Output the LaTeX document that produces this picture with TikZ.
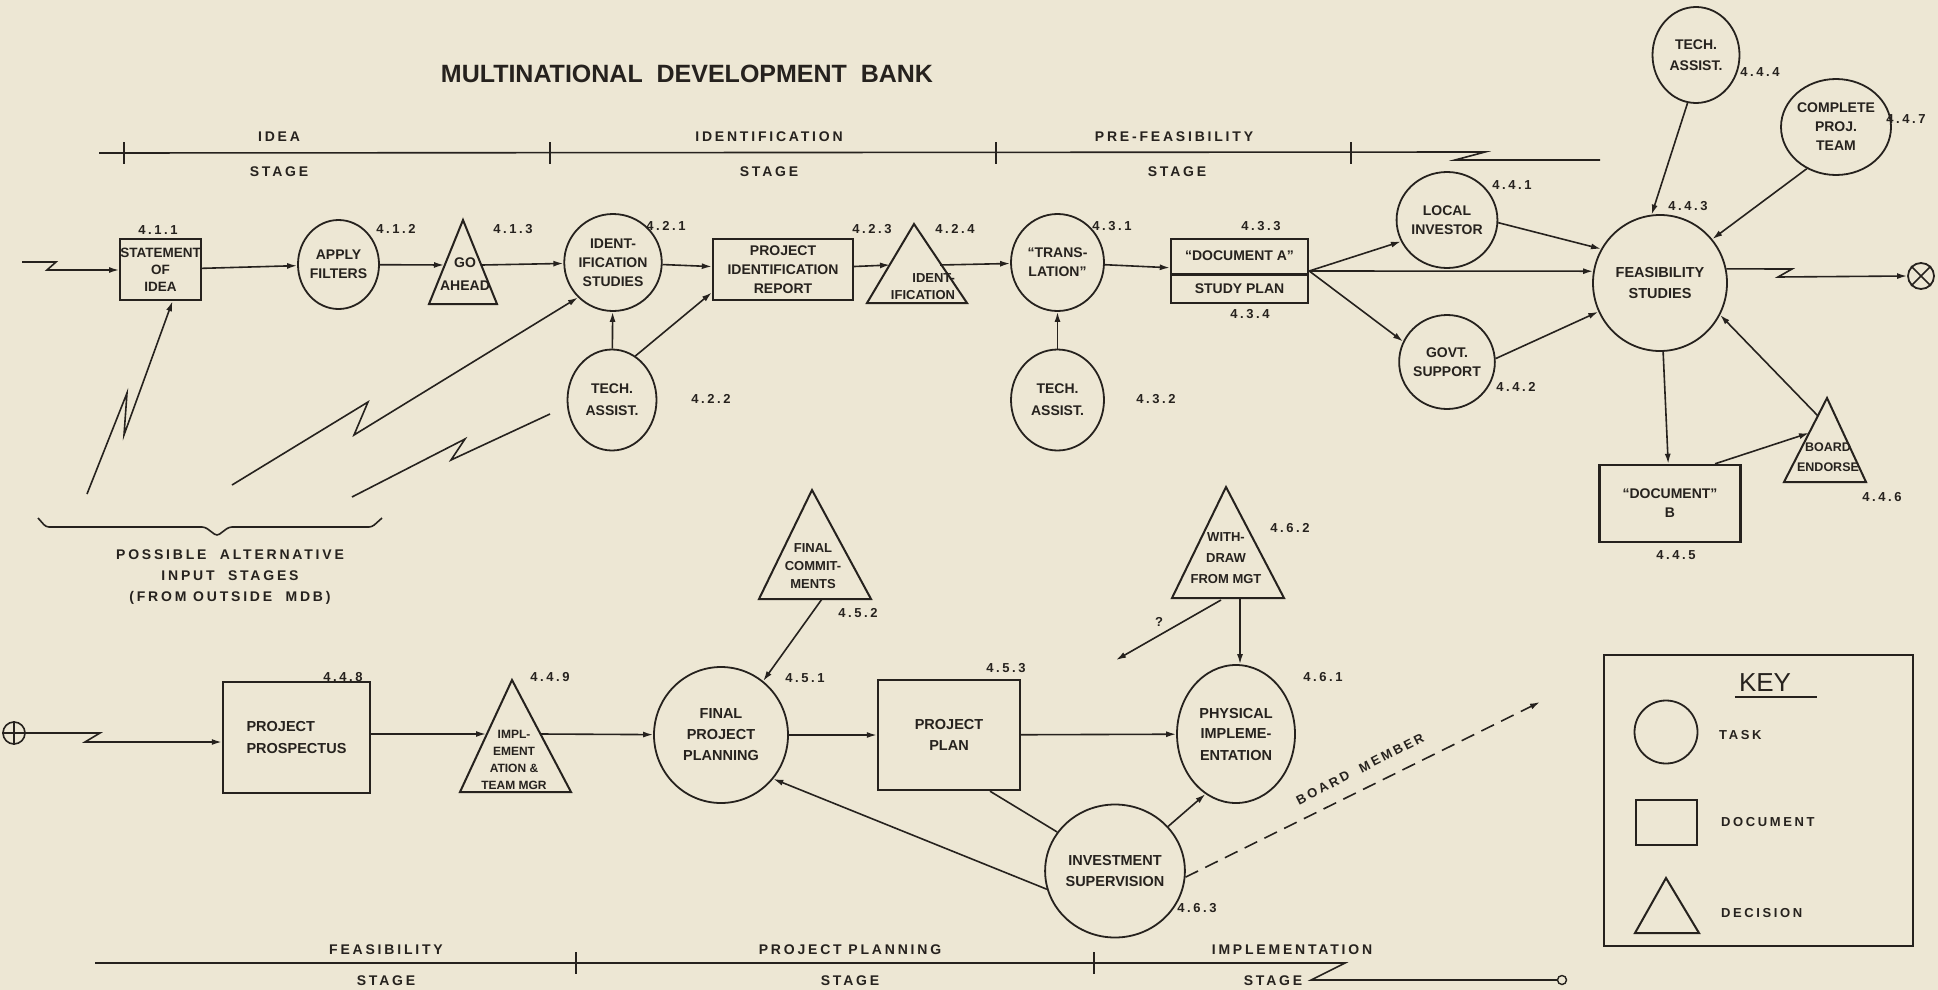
\documentclass[tikz,border=0pt]{standalone}
\usepackage{fontspec}
\setmainfont{Liberation Sans}
\newfontfamily\mySpacedFont{Liberation Sans}[LetterSpace=20]
\usetikzlibrary{shapes.geometric,arrows.meta,calc}
\definecolor{paper}{RGB}{237,231,212}
\definecolor{inkc}{RGB}{38,34,30}
\newcommand\myNodeFont{\bfseries\fontsize{14}{19}\selectfont}
\newcommand\myLowFont{\bfseries\fontsize{14.5}{21}\selectfont}
\newcommand\myLblFont{\mySpacedFont\bfseries\fontsize{13}{15}\selectfont}
\newcommand\myStageFont{\mySpacedFont\bfseries\fontsize{14}{16}\selectfont}
\newcommand\myTitleFont{\bfseries\fontsize{25}{30}\selectfont}
\begin{document}
\begin{tikzpicture}[x=1pt,y=-1pt,
  task/.style={ellipse, draw=inkc, line width=1.8pt, inner sep=0pt, align=center, font=\myNodeFont, text=inkc},
  docbox/.style={rectangle, draw=inkc, line width=2.4pt, inner sep=0pt, align=center, font=\myNodeFont, text=inkc},
  tri/.style={draw=inkc, line width=2pt, line join=miter},
  trinode/.style={inner sep=0pt, align=center, font=\myNodeFont, text=inkc},
  lbl/.style={inner sep=0pt, font=\myLblFont, text=inkc},
  stagelbl/.style={inner sep=0pt, font=\myStageFont, text=inkc},
  ln/.style={draw=inkc, line width=1.6pt},
  arr/.style={draw=inkc, line width=1.6pt, -{Latex[length=10pt,width=6pt]}},
]
\fill[paper] (0,0) rectangle (1938,990);
\useasboundingbox (0,0) rectangle (1938,990);

% title
\node[font=\myTitleFont, text=inkc, inner sep=0pt] (title) at (687,74) {MULTINATIONAL\ \ DEVELOPMENT\ \ BANK};

% top stage line
\coordinate (tsA) at (99,153);
\coordinate (tsB) at (1485,152);
\coordinate (tsC) at (1455,160);
\coordinate (tsD) at (1600,160);
\draw[ln] (tsA) -- (tsB) -- (tsC) -- (tsD);
\foreach \x in {124,550,996,1351} {\draw[ln] (\x,142) -- (\x,164);}
\node[stagelbl] (lIdea) at (279,137) {IDEA};
\node[stagelbl] (lIdeaS) at (279,172) {STAGE};
\node[stagelbl] (lIdent) at (769,137) {IDENTIFICATION};
\node[stagelbl] (lIdentS) at (769,172) {STAGE};
\node[stagelbl] (lPre) at (1174,137) {PRE-FEASIBILITY};
\node[stagelbl] (lPreS) at (1177,172) {STAGE};

% ---------- main row ----------
\node[docbox, minimum width=79pt, minimum height=61pt, font=\bfseries\fontsize{13.5}{17}\selectfont] (stmt) at (160.5,269.5) {STATEMENT\\OF\\IDEA};
\node[lbl] (n411) at (158,230) {4.1.1};
\node[task, minimum width=81pt, minimum height=89pt] (apply) at (338.5,264.5) {APPLY\\FILTERS};
\node[lbl] (n412) at (396,229) {4.1.2};
\draw[tri] (463,220) -- (429,304) -- (497,304) -- cycle;
\node[trinode, font=\bfseries\fontsize{14}{23}\selectfont] (t413) at (465,274) {GO\\AHEAD};
\node[lbl] (n413) at (513,229) {4.1.3};
\coordinate (t413w) at (444,265);
\coordinate (t413e) at (482,265);
\node[task, minimum width=92pt, minimum height=97pt] (ident) at (613,262.5) {IDENT-\\IFICATION\\STUDIES};
\node[lbl] (n421) at (666,226) {4.2.1};
\node[task, minimum width=89pt, minimum height=101pt, font=\bfseries\fontsize{14}{22}\selectfont] (tech422) at (612,400) {TECH.\\ASSIST.};
\node[lbl] (n422) at (711,399) {4.2.2};
\node[docbox, minimum width=140pt, minimum height=61pt] (report) at (783,269.5) {PROJECT\\IDENTIFICATION\\REPORT};
\node[lbl] (n423) at (872,229) {4.2.3};
\draw[tri] (914,224) -- (867,303) -- (967,303) -- cycle;
\node[trinode, align=right, font=\bfseries\fontsize{13}{17}\selectfont] (t424) at (923,287) {IDENT-\\IFICATION};
\node[lbl] (n424) at (955,229) {4.2.4};
\coordinate (t424w) at (890,265);
\coordinate (t424e) at (940,265);
\node[task, minimum width=93pt, minimum height=97pt] (trans) at (1057.5,262.5) {``TRANS-\\LATION''};
\node[lbl] (n431) at (1112,226) {4.3.1};
\node[task, minimum width=93pt, minimum height=101pt, font=\bfseries\fontsize{14}{22}\selectfont] (tech432) at (1057.5,400) {TECH.\\ASSIST.};
\node[lbl] (n432) at (1156,399) {4.3.2};
\node[docbox, minimum width=137pt, minimum height=64pt] (docA) at (1239.5,271) {};
\draw[inkc, line width=2.4pt] ([yshift=-3.5pt]docA.west) -- ([yshift=-3.5pt]docA.east);
\node[trinode] (docAt) at (1239.5,256) {``DOCUMENT A''};
\node[trinode] (docAb) at (1239.5,289) {STUDY PLAN};
\node[lbl] (n433) at (1261,226) {4.3.3};
\node[lbl] (n434) at (1250,314) {4.3.4};
\node[task, minimum width=90pt, minimum height=96pt] (local) at (1447,220) {LOCAL\\INVESTOR};
\node[lbl] (n441) at (1512,185) {4.4.1};
\node[task, minimum width=90pt, minimum height=94pt] (govt) at (1447,362) {GOVT.\\SUPPORT};
\node[lbl] (n442) at (1516,387) {4.4.2};
\node[task, minimum width=134pt, minimum height=136pt, font=\bfseries\fontsize{14.5}{21}\selectfont] (feas) at (1660,283) {FEASIBILITY\\STUDIES};
\node[lbl] (n443) at (1688,206) {4.4.3};
\node[task, minimum width=87pt, minimum height=96pt, font=\bfseries\fontsize{14}{21}\selectfont] (tech444) at (1696,55) {TECH.\\ASSIST.};
\node[lbl] (n444) at (1760,72) {4.4.4};
\node[task, minimum width=82pt, minimum height=96pt] (team) at (1836,127) {COMPLETE\\PROJ.\\TEAM};
\node[lbl] (n447) at (1906,119) {4.4.7};
\node[docbox, minimum width=141pt, minimum height=77pt] (docB) at (1670,503.5) {``DOCUMENT''\\B};
\node[lbl] (n445) at (1676,555) {4.4.5};
\draw[tri] (1827,398) -- (1784,482) -- (1866,482) -- cycle;
\node[trinode, font=\bfseries\fontsize{12.5}{20}\selectfont] (t446) at (1828,457) {BOARD\\ENDORSE};
\node[lbl] (n446) at (1882,497) {4.4.6};
\coordinate (t446w) at (1809,433);
\coordinate (t446b) at (1818,416);
\node[circle, draw=inkc, line width=1.8pt, minimum size=26pt, inner sep=0pt] (outX) at (1921,276) {};
\draw[ln] (outX.45) -- (outX.225);
\draw[ln] (outX.135) -- (outX.315);

% input zigzag
\coordinate (in1) at (22,262);
\coordinate (in1a) at (56,262);
\coordinate (in1b) at (47,270);
\draw[arr] (in1) -- (in1a) -- (in1b) -- (in1b -| stmt.west);

% main row connectors
\draw[arr] (stmt) -- (apply);
\draw[arr] (apply) -- (t413w);
\draw[arr] (t413e) -- (ident);
\draw[arr] (ident) -- (report);
\draw[arr] (report) -- (t424w);
\draw[arr] (t424e) -- (trans);
\draw[arr] (trans) -- (docA);
\draw[arr] (tech422) -- (ident);
\draw[arr] (tech422.62) -- ([yshift=-23pt]report.west);
\draw[arr] (tech432) -- (trans);
\draw[arr] (docA.east) -- (local.205);
\draw[arr] (docA.east) -- (feas.170);
\draw[arr] (docA.east) -- (govt.155);
\draw[arr] (local.-3) -- (feas.150);
\draw[arr] (govt.4) -- (feas.205);
\draw[arr] (tech444.-100) -- (feas.97);
\draw[arr] (team.235) -- (feas.40);
\draw[arr] (feas) -- (docB);
\draw[arr] ([xshift=45pt]docB.north) -- (t446w);
\draw[arr] (t446b) -- (feas.-28);
\coordinate (fz1) at (1792,269);
\coordinate (fz2) at (1778,277);
\draw[arr] (feas.12) -- (fz1) -- (fz2) -- (outX.west);

% alternative inputs
\coordinate (a1s) at (87,494);
\coordinate (a1m) at (127,393);
\coordinate (a1n) at (124,435);
\draw[arr] (a1s) -- (a1m) -- (a1n) -- ([xshift=12pt]stmt.south);
\coordinate (a2s) at (232,485);
\coordinate (a2m) at (368,402);
\coordinate (a2n) at (354,435);
\draw[arr] (a2s) -- (a2m) -- (a2n) -- (ident.225);
\coordinate (a3s) at (352,497);
\coordinate (a3m) at (465,439);
\coordinate (a3n) at (451,460);
\coordinate (a3e) at (550,414);
\draw[ln] (a3s) -- (a3m) -- (a3n) -- (a3e);
\draw[ln, rounded corners=3pt] (38,518) -- (46,527) -- (205,527) -- (217,536) -- (229,527) -- (372,527) -- (382,518);
\node[inner sep=0pt, align=center, text=inkc, font=\mySpacedFont\bfseries\fontsize{14}{21}\selectfont] (altTxt) at (230,577) {POSSIBLE\ \ ALTERNATIVE\\INPUT\ \ STAGES\\(FROM OUTSIDE\ \ MDB)};

% ---------- bottom row ----------
\node[circle, draw=inkc, line width=1.6pt, minimum size=22pt, inner sep=0pt] (inP) at (14,733) {};
\draw[ln] (inP.north) -- (inP.south);
\draw[ln] (inP.west) -- (inP.east);
\node[docbox, minimum width=147pt, minimum height=111pt, align=left, font=\myLowFont] (prosp) at (296.5,737.5) {PROJECT\\PROSPECTUS};
\node[lbl] (n448) at (343,677) {4.4.8};
\coordinate (b1) at (100,733);
\coordinate (b2) at (85,742);
\draw[arr] (inP.east) -- (b1) -- (b2) -- (b2 -| prosp.west);
\draw[tri] (512,680) -- (460,792) -- (571,792) -- cycle;
\node[trinode, font=\bfseries\fontsize{12}{17}\selectfont] (t449) at (514,760) {IMPL-\\EMENT\\ATION \&\\TEAM MGR};
\node[lbl] (n449) at (550,677) {4.4.9};
\coordinate (t449w) at (486,734);
\coordinate (t449e) at (541,734);
\node[task, minimum width=134pt, minimum height=136pt, font=\myLowFont] (final) at (721,735) {FINAL\\PROJECT\\PLANNING};
\node[lbl] (n451) at (805,678) {4.5.1};
\draw[tri] (812,490) -- (759,599) -- (871,599) -- cycle;
\node[trinode, font=\bfseries\fontsize{13}{18}\selectfont] (t452) at (813,566) {FINAL\\COMMIT-\\MENTS};
\node[lbl] (n452) at (858,613) {4.5.2};
\coordinate (t452b) at (822,599);
\node[docbox, minimum width=142pt, minimum height=110pt, font=\myLowFont] (plan) at (949,735) {PROJECT\\PLAN};
\node[lbl] (n453) at (1006,668) {4.5.3};
\node[task, minimum width=118pt, minimum height=138pt, font=\myLowFont] (phys) at (1236,734) {PHYSICAL\\IMPLEME-\\ENTATION};
\node[lbl] (n461) at (1323,677) {4.6.1};
\draw[tri] (1226,487) -- (1172,598) -- (1284,598) -- cycle;
\node[trinode, font=\bfseries\fontsize{13}{21}\selectfont] (t462) at (1226,558) {WITH-\\DRAW\\FROM MGT};
\node[lbl] (n462) at (1290,528) {4.6.2};
\coordinate (t462b) at (1240,598);
\coordinate (t462q) at (1221,600);
\coordinate (qEnd) at (1116,660);
\node[lbl] (qm) at (1159,622) {?};
\node[task, minimum width=132pt, minimum height=133pt, font=\myLowFont] (inv) at (1115,871) {INVESTMENT\\SUPERVISION};
\node[lbl] (n463) at (1197,908) {4.6.3};
\coordinate (bm) at (1540,702);

\draw[arr] (prosp.east |- t449w) -- (t449w);
\draw[arr] (t449e) -- (final);
\draw[arr] (final) -- (plan);
\draw[arr] (plan) -- (phys);
\draw[arr] (t452b) -- (final.52);
\draw[arr] (t462b) -- (t462b |- phys.north);
\draw[arr] (t462q) -- (qEnd);
\draw[arr] (inv.195) -- (final.-40);
\draw[ln] (inv.146) -- ([xshift=41pt]plan.south);
\draw[arr] (inv.40) -- (phys.-117);
\draw[arr, dash pattern=on 14pt off 8pt] (inv.-5) -- (bm);
\node[lbl, rotate=27] (bmt) at (1360,769) {BOARD\ \ MEMBER};

% bottom stage line
\coordinate (bsA) at (95,963);
\coordinate (bsB) at (1345,963);
\coordinate (bsC) at (1311,980);
\coordinate (bsD) at (1557,980);
\draw[ln] (bsA) -- (bsB) -- (bsC) -- (bsD);
\node[circle, draw=inkc, line width=1.4pt, minimum size=9pt, inner sep=0pt] (bsE) at (1562,980) {};
\foreach \x in {576,1094} {\draw[ln] (\x,952) -- (\x,974);}
\node[stagelbl] (lFeas) at (386,950) {FEASIBILITY};
\node[stagelbl] (lFeasS) at (386,981) {STAGE};
\node[stagelbl] (lPlan) at (850,950) {PROJECT PLANNING};
\node[stagelbl] (lPlanS) at (850,981) {STAGE};
\node[stagelbl] (lImpl) at (1292,950) {IMPLEMENTATION};
\node[stagelbl] (lImplS) at (1273,981) {STAGE};

% key
\node[draw=inkc, line width=2.4pt, minimum width=309pt, minimum height=291pt, inner sep=0pt] (key) at (1758.5,800.5) {};
\node[inner sep=0pt, text=inkc, font=\fontsize{26}{30}\selectfont] (keyT) at (1765,683) {KEY};
\draw[inkc, line width=2pt] (keyT.south west) ++(-4,5) -- ++(82,0);
\node[task, minimum width=63pt, minimum height=63pt] (kTask) at (1666,732) {};
\node[lbl, anchor=west] (kTaskT) at (1719,735) {TASK};
\node[docbox, minimum width=61pt, minimum height=45pt] (kDoc) at (1666.5,822.5) {};
\node[lbl, anchor=west] (kDocT) at (1721,822) {DOCUMENT};
\draw[tri] (1666,878) -- (1635,933) -- (1699,933) -- cycle;
\node[lbl, anchor=west] (kDecT) at (1721,913) {DECISION};
\end{tikzpicture}
\end{document}
